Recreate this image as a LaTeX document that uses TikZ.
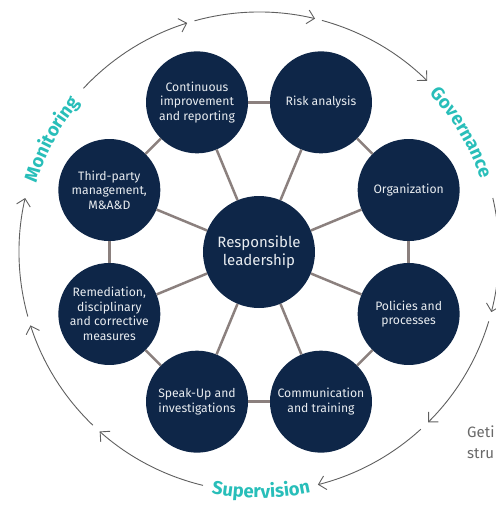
\documentclass[tikz,border=0pt]{standalone}
\usepackage{fontspec}
\setmainfont{Fira Sans}
\usetikzlibrary{arrows.meta,decorations.text}
\definecolor{navy}{RGB}{14,38,72}
\definecolor{connc}{RGB}{139,128,126}
\definecolor{tealc}{RGB}{40,190,185}
\definecolor{arcgray}{RGB}{95,95,95}
\definecolor{txtw}{RGB}{232,236,240}
\definecolor{sidegray}{RGB}{105,105,105}
\begin{document}
\begin{tikzpicture}[x=1pt,y=1pt,
  item/.style={circle, fill=navy, minimum size=102pt, inner sep=0pt, text=txtw, align=center, font=\fontsize{12.2}{14.5}\selectfont},
  hub/.style={circle, fill=navy, minimum size=112pt, inner sep=0pt, text=txtw, align=center, font=\fontsize{15}{18}\selectfont},
  link/.style={draw=connc, line width=2.5pt},
  cyclearc/.style={draw=arcgray, line width=0.9pt, -{Straight Barb[length=7pt,width=14pt]}},
  phase/.style={decorate, decoration={text along path, text align=center, text color=tealc, text={|\fontsize{18.5}{18.5}\selectfont\bfseries|#1}}}
]
\useasboundingbox (-259,-255) rectangle (237,252);
\clip (-259,-255) rectangle (237,252);

% nodes
\node[hub] (lead) at (0,0) {Responsible\\leadership};
\node[item] (risk) at (67.5:162) {Risk analysis};
\node[item] (org) at (22.5:162) {Organization};
\node[item] (pol) at (-22.5:162) {Policies and\\processes};
\node[item] (com) at (-67.5:162) {Communication\\and training};
\node[item] (spk) at (-112.5:162) {Speak-Up and\\investigations};
\node[item] (rem) at (-157.5:162) {Remediation,\\disciplinary\\and corrective\\measures};
\node[item] (tpm) at (157.5:162) {Third-party\\management,\\M\&A\&D};
\node[item] (cim) at (112.5:162) {Continuous\\improvement\\and reporting};

% spokes
\foreach \n in {risk,org,pol,com,spk,rem,tpm,cim}
  \draw[link] (lead) -- (\n);
% ring
\draw[link] (cim) -- (risk);
\draw[link] (risk) -- (org);
\draw[link] (org) -- (pol);
\draw[link] (pol) -- (com);
\draw[link] (com) -- (spk);
\draw[link] (spk) -- (rem);
\draw[link] (rem) -- (tpm);
\draw[link] (tpm) -- (cim);

% outer cycle arcs
\draw[cyclearc] (137:240) arc[start angle=137, end angle=107.4, radius=240];
\draw[cyclearc] (105.6:240) arc[start angle=105.6, end angle=76.5, radius=240];
\draw[cyclearc] (74.8:240) arc[start angle=74.8, end angle=45.5, radius=240];
\draw[cyclearc] (13:240) arc[start angle=13, end angle=-14.5, radius=240];
\draw[cyclearc] (-16.8:240) arc[start angle=-16.8, end angle=-45.2, radius=240];
\draw[cyclearc] (-47.6:240) arc[start angle=-47.6, end angle=-75.8, radius=240];
\draw[cyclearc] (-103.5:240) arc[start angle=-103.5, end angle=-131.6, radius=240];
\draw[cyclearc] (-133.8:240) arc[start angle=-133.8, end angle=-162.2, radius=240];
\draw[cyclearc] (-164.4:240) arc[start angle=-164.4, end angle=-193, radius=240];

% phase labels
\path[phase=Monitoring] (178:233) arc[start angle=178, end angle=125, radius=233];
\path[phase=Governance] (57:233) arc[start angle=57, end angle=4, radius=233];
\path[phase=Supervision] (-116:246) arc[start angle=-116, end angle=-63, radius=246];

% clipped side text
\node[anchor=north west, inner sep=0pt, text=sidegray, align=left, font=\fontsize{15}{21}\selectfont] (geti) at (208,-174) {Geti\\stru};
\end{tikzpicture}
\end{document}
